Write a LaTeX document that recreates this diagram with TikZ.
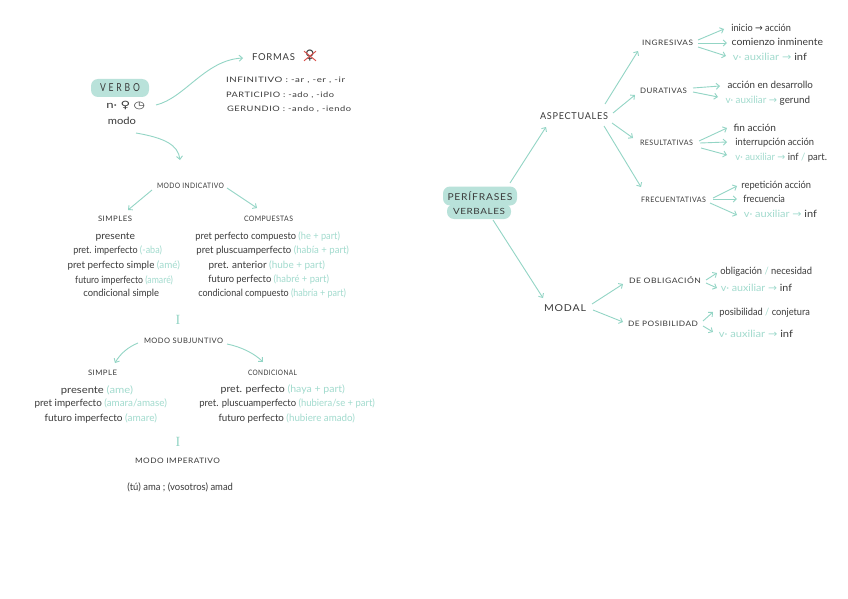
\documentclass[tikz,border=0pt]{standalone}
\usepackage{fontspec}
\usepackage{graphicx}
\setmainfont{Lato}
\newfontfamily\symf{DejaVu Sans}
\newfontfamily\serf{Liberation Serif}
\usetikzlibrary{arrows.meta}
\definecolor{mint}{HTML}{93D5C5}
\definecolor{mintbox}{HTML}{B9E2DA}
\definecolor{ink}{HTML}{3A3A3A}
\definecolor{mintt}{HTML}{A2DBCE}
\definecolor{crossred}{HTML}{D9534F}
\newcommand{\tealt}[1]{\textcolor{mintt}{#1}}
\newcommand{\arw}{{\symf\char"2192}}
\newcommand{\lc}{\fontsize{10}{11}\selectfont}
\newcommand{\cb}{\fontsize{9.5}{11}\selectfont\addfontfeatures{LetterSpace=8}}
\newcommand{\cs}{\fontsize{7.5}{9}\selectfont\addfontfeatures{LetterSpace=6}}
\tikzset{
  lab/.style={inner sep=0pt,outer sep=0pt,text=ink,text height=9pt,text depth=2pt,anchor=west},
  arr/.style={draw=mint,line width=0.9pt,-{Straight Barb[length=3.2pt,width=6pt]}},
  blob/.style={fill=mintbox,rounded corners=7pt,inner sep=0pt,outer sep=0pt,text=ink},
  mark1/.style={inner sep=0pt,outer sep=0pt,text=mint,font=\serf\fontsize{14}{14}\selectfont},
}
% name, x0, x1, y, font, text
\newcommand{\tx}[6]{\pgfmathsetmacro{\tw}{#3-#2}\node[lab] (#1) at (#2,#4) {\resizebox{\tw pt}{\height}{#5 #6}};}
% from-anchor, shift, to-anchor, shift
\newcommand{\lnk}[4]{\draw[arr] ([shift={(#2)}]#1) -- ([shift={(#4)}]#3);}
\begin{document}
\begin{tikzpicture}[x=1pt,y=-1pt]
\useasboundingbox (0,0) rectangle (848,599);
\fill[white] (0,0) rectangle (848,599);
% ---- left: VERBO
\node[blob,minimum width=58pt,minimum height=18pt] (verbo) at (120,88) {\resizebox{40pt}{\height}{\cb\fontsize{11}{12}\selectfont V E R B O}};
\tx{nrow}{103}{145}{105}{\lc}{n· {\symf\char"2640} {\symf\char"25F7}}
\tx{modo}{105}{136}{121}{\lc}{modo}
\tx{formas}{252}{295}{57}{\cb}{FORMAS}
\node[inner sep=0pt,text=ink,font=\symf\fontsize{13}{13}\selectfont] (gen) at (310,56) {\char"2640};
\draw[crossred,line width=1pt] ([shift={(-1,1)}]gen.north west) -- ([shift={(1,-1)}]gen.south east);
\draw[crossred,line width=1pt] ([shift={(1,1)}]gen.north east) -- ([shift={(-1,-1)}]gen.south west);
\tx{inf}{226}{345}{79}{\cs}{INFINITIVO : -ar , -er , -ir}
\tx{par}{226}{334}{94}{\cs}{PARTICIPIO : -ado , -ido}
\tx{ger}{227}{351}{108}{\cs}{GERUNDIO : -ando , -iendo}
\draw[arr] ([shift={(11,0)}]nrow.east) .. controls (185,98) and (205,60) .. ([shift={(-9,1)}]formas.west);
\tx{mi}{157}{224}{185}{\cs}{MODO INDICATIVO}
\draw[arr] ([shift={(0,12)}]modo.east) .. controls (165,138) and (178,145) .. ([shift={(23,-25)}]mi.west);
\tx{sim}{98}{132}{218}{\cs}{SIMPLES}
\tx{com}{244}{293}{218}{\cs}{COMPUESTAS}
\lnk{mi.west}{-5,5}{sim.west}{30,-8}
\lnk{mi.east}{3,3}{com.west}{13,-10}
\tx{a1}{93}{135}{236}{\lc}{presente}
\tx{a2}{71}{162}{250}{\lc}{pret. imperfecto \tealt{(-aba)}}
\tx{a3}{65}{180}{265}{\lc}{pret perfecto simple \tealt{(amé)}}
\tx{a4}{73}{173}{280}{\lc}{futuro imperfecto \tealt{(amaré)}}
\tx{a5}{81}{159}{293}{\lc}{condicional simple}
\tx{b1}{193}{340}{236}{\lc}{pret perfecto compuesto \tealt{(he + part)}}
\tx{b2}{194}{349}{250}{\lc}{pret pluscuamperfecto \tealt{(había + part)}}
\tx{b3}{206}{325}{265}{\lc}{pret. anterior \tealt{(hube + part)}}
\tx{b4}{206}{329}{279}{\lc}{futuro perfecto \tealt{(habré + part)}}
\tx{b5}{196}{346}{293}{\lc}{condicional compuesto \tealt{(habría + part)}}
\node[mark1] (i1) at (178,320) {I};
\tx{ms}{144}{223}{340}{\cs}{MODO SUBJUNTIVO}
\tx{ss}{88}{117}{372}{\cs}{SIMPLE}
\tx{cn}{248}{297}{372}{\cs}{CONDICIONAL}
\draw[arr] ([shift={(-6,3)}]ms.west) .. controls (128,347) and (120,354) .. ([shift={(27,-9)}]ss.west);
\draw[arr] ([shift={(4,4)}]ms.east) .. controls (242,347) and (255,354) .. ([shift={(15,-10)}]cn.west);
\tx{c1}{58}{133}{390}{\lc}{presente \tealt{(ame)}}
\tx{c2}{32}{167}{403}{\lc}{pret imperfecto \tealt{(amara/amase)}}
\tx{c3}{42}{157}{418}{\lc}{futuro imperfecto \tealt{(amare)}}
\tx{d1}{218}{345}{389}{\lc}{pret. perfecto \tealt{(haya + part)}}
\tx{d2}{197}{375}{403}{\lc}{pret. pluscuamperfecto \tealt{(hubiera/se + part)}}
\tx{d3}{216}{355}{418}{\lc}{futuro perfecto \tealt{(hubiere amado)}}
\node[mark1] (i2) at (178,442) {I};
\tx{mim}{135}{220}{460}{\cs}{MODO IMPERATIVO}
\tx{imp}{125}{233}{487}{\lc}{(tú) ama ; (vosotros) amad}
% ---- right: PERIFRASES
\node[blob,minimum width=64pt,minimum height=15pt] (per2) at (479,211.5) {\resizebox{52pt}{\height}{\cs\fontsize{8.5}{10}\selectfont VERBALES}};
\node[blob,minimum width=74pt,minimum height=19pt] (per1) at (480,196) {\resizebox{65pt}{\height}{\cb PERÍFRASES}};
\tx{asp}{540}{608}{116}{\cb}{ASPECTUALES}
\tx{modal}{544}{586}{308}{\cb}{MODAL}
\lnk{per1.north east}{-7,-3.5}{asp.west}{6,11}
\lnk{per2.south}{14,1}{modal.west}{-1,-10}
\tx{ing}{642}{693}{42}{\cs}{INGRESIVAS}
\tx{dur}{640}{687}{90}{\cs}{DURATIVAS}
\tx{res}{640}{693}{142}{\cs}{RESULTATIVAS}
\tx{fre}{641}{706}{199}{\cs}{FRECUENTATIVAS}
\lnk{asp.east}{-3,-12}{ing.west}{-4,9}
\lnk{asp.east}{5,-3}{dur.west}{-5,5}
\lnk{asp.east}{4,7}{res.west}{-7,-4}
\lnk{asp.east}{-4,10}{fre.west}{0,-12}
\tx{ini}{729}{791}{28}{\lc}{inicio \arw{} acción}
\tx{cmz}{729}{823}{42}{\lc}{comienzo inminente}
\tx{va}{730}{807}{57}{\lc}{\tealt{v· auxiliar \arw{}} inf}
\lnk{ing.east}{5,-2}{ini.west}{-5,1}
\lnk{ing.east}{5,1}{cmz.west}{-2,1}
\lnk{ing.east}{5,5}{va.west}{-4,-1}
\tx{acc}{725}{813}{85}{\lc}{acción en desarrollo}
\tx{vb}{723}{810}{100}{\lc}{\tealt{v· auxiliar \arw{}} gerund}
\lnk{dur.east}{6,-2}{acc.west}{-5,1}
\lnk{dur.east}{6,2}{vb.west}{-5,-3}
\tx{fin}{731}{776}{128}{\lc}{fin acción}
\tx{int}{733}{814}{142}{\lc}{interrupción acción}
\tx{vc}{733}{827}{157}{\lc}{\tealt{v· auxiliar \arw{}} inf \tealt{/} part.}
\lnk{res.east}{6,-1}{fin.west}{-4,0}
\lnk{res.east}{7,1}{int.west}{-6,0}
\lnk{res.east}{8,6}{vc.west}{-6,-2}
\tx{rep}{739}{811}{185}{\lc}{repetición acción}
\tx{frc}{741}{785}{199}{\lc}{frecuencia}
\tx{vd}{741}{817}{214}{\lc}{\tealt{v· auxiliar \arw{}} inf}
\lnk{fre.east}{7,-1}{rep.west}{-2,1}
\lnk{fre.east}{7,0}{frc.west}{-4,0}
\lnk{fre.east}{4,4}{vd.west}{-4,1}
\tx{ob}{629}{701}{280}{\cs}{DE OBLIGACIÓN}
\tx{pos}{628}{698}{323}{\cs}{DE POSIBILIDAD}
\lnk{modal.east}{6,-4}{ob.west}{-6,4}
\lnk{modal.east}{7,2}{pos.west}{-5,-1}
\tx{ob1}{718}{812}{271}{\lc}{obligación \tealt{/} necesidad}
\tx{ob2}{718}{792}{288}{\lc}{\tealt{v· auxiliar \arw{}} inf}
\tx{po1}{717}{810}{312}{\lc}{posibilidad \tealt{/} conjetura}
\tx{po2}{716}{793}{334}{\lc}{\tealt{v· auxiliar \arw{}} inf}
\lnk{ob.east}{5,0}{ob1.west}{-1,2}
\lnk{ob.east}{5,3}{ob2.west}{-1,0}
\lnk{pos.east}{5,-2}{po1.west}{-4,0}
\lnk{pos.east}{5,3}{po2.west}{-3,-2}
\end{tikzpicture}
\end{document}
